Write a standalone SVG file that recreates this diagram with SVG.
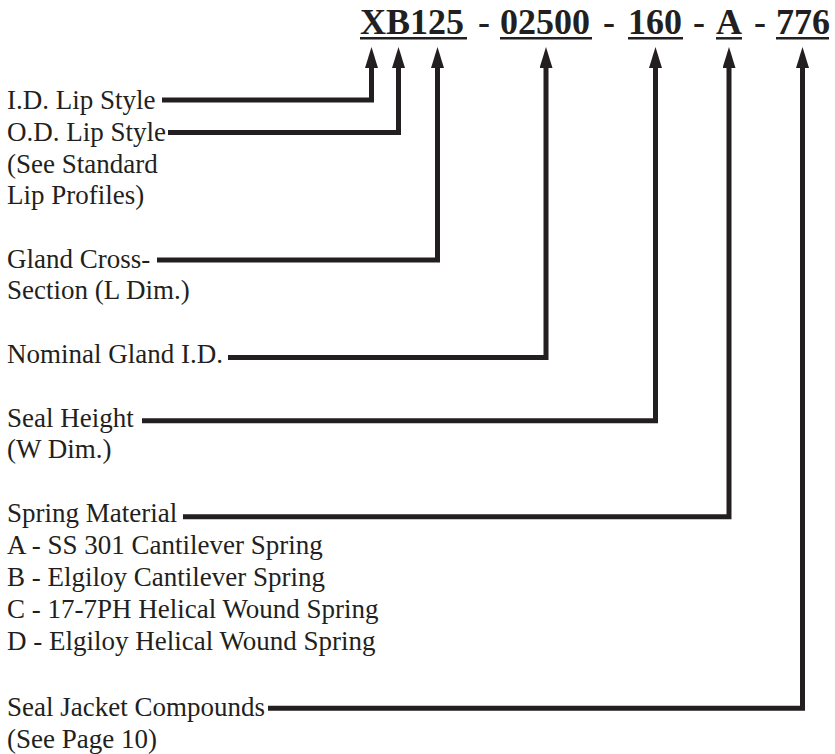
<svg xmlns="http://www.w3.org/2000/svg" width="835" height="754" viewBox="0 0 835 754">
<style>
.lbl{font-family:"Liberation Serif","Times New Roman",serif;font-size:27px;fill:#231f20}
.code{font-family:"Liberation Serif","Times New Roman",serif;font-size:36px;font-weight:bold;fill:#231f20}
.ul{stroke:#231f20;stroke-width:2.5}
.conn{fill:none;stroke:#231f20;stroke-width:5;stroke-linejoin:miter;stroke-linecap:butt;marker-end:url(#ah)}
</style>
<defs>
<marker id="ah" viewBox="0 0 21 13" markerWidth="21" markerHeight="13" markerUnits="userSpaceOnUse" refX="1" refY="6.5" orient="auto">
<path d="M0,0 L21,6.5 L0,13 Z" fill="#231f20"/>
</marker>
</defs>
<rect width="835" height="754" fill="#ffffff"/>
<g id="code">
<text class="code" x="360" y="34">XB125</text>
<text class="code" x="484" y="34" text-anchor="middle">-</text>
<text class="code" x="500" y="34">02500</text>
<text class="code" x="609" y="34" text-anchor="middle">-</text>
<text class="code" x="628" y="34">160</text>
<text class="code" x="699" y="34" text-anchor="middle">-</text>
<text class="code" x="716" y="34">A</text>
<text class="code" x="760" y="34" text-anchor="middle">-</text>
<text class="code" x="776" y="34">776</text>
<line class="ul" x1="360" y1="38.3" x2="467" y2="38.3"/>
<line class="ul" x1="500" y1="38.3" x2="592" y2="38.3"/>
<line class="ul" x1="628" y1="38.3" x2="683" y2="38.3"/>
<line class="ul" x1="716" y1="38.3" x2="742" y2="38.3"/>
<line class="ul" x1="776" y1="38.3" x2="829" y2="38.3"/>
</g>
<g id="id-lip"><text class="lbl" x="7" y="109">I.D. Lip Style</text></g>
<g id="od-lip">
<text class="lbl" x="7" y="141">O.D. Lip Style</text>
<text class="lbl" x="7" y="172.5">(See Standard</text>
<text class="lbl" x="7" y="204">Lip Profiles)</text>
</g>
<g id="gland-cs">
<text class="lbl" x="7" y="268">Gland Cross-</text>
<text class="lbl" x="7" y="299">Section (L Dim.)</text>
</g>
<g id="nominal-id"><text class="lbl" x="7" y="363">Nominal Gland I.D.</text></g>
<g id="seal-height">
<text class="lbl" x="7" y="427">Seal Height</text>
<text class="lbl" x="7" y="458">(W Dim.)</text>
</g>
<g id="spring">
<text class="lbl" x="7" y="522">Spring Material</text>
<text class="lbl" x="7" y="554">A - SS 301 Cantilever Spring</text>
<text class="lbl" x="7" y="586">B - Elgiloy Cantilever Spring</text>
<text class="lbl" x="7" y="618">C - 17-7PH Helical Wound Spring</text>
<text class="lbl" x="7" y="650">D - Elgiloy Helical Wound Spring</text>
</g>
<g id="jacket">
<text class="lbl" x="7" y="716">Seal Jacket Compounds</text>
<text class="lbl" x="7" y="748">(See Page 10)</text>
</g>
<g id="connectors">
<path class="conn" d="M162,100 H371.5 V67"/>
<path class="conn" d="M168,132.5 H398.5 V67"/>
<path class="conn" d="M157,260 H437.5 V67"/>
<path class="conn" d="M228,357.5 H546 V67"/>
<path class="conn" d="M142,420.7 H655.5 V67"/>
<path class="conn" d="M183,516.8 H729 V67"/>
<path class="conn" d="M268,708.3 H802.5 V67"/>
</g>
</svg>
